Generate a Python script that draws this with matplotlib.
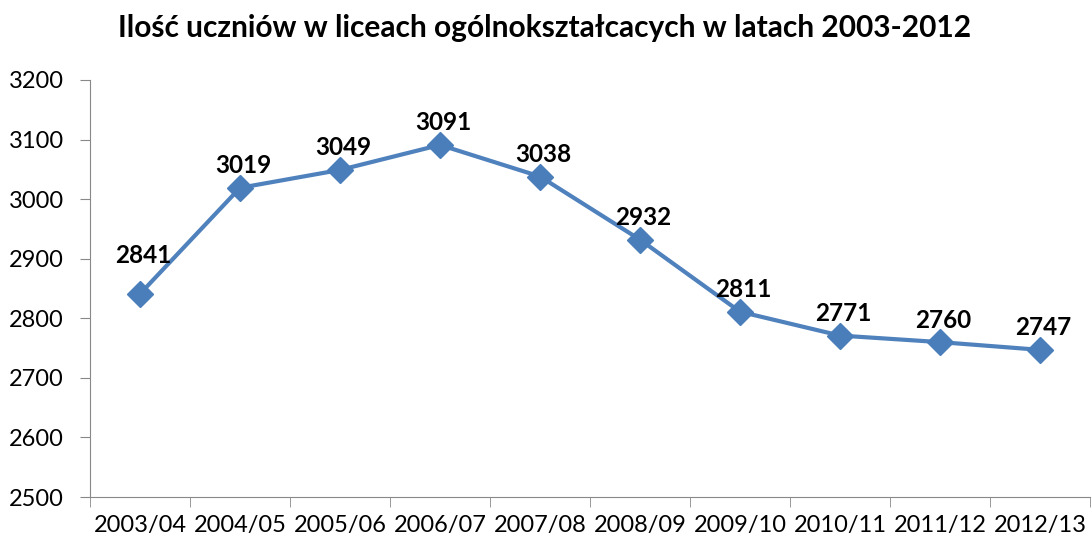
import matplotlib.pyplot as plt

years = ["2003/04", "2004/05", "2005/06", "2006/07", "2007/08",
         "2008/09", "2009/10", "2010/11", "2011/12", "2012/13"]
students = [2841, 3019, 3049, 3091, 3038, 2932, 2811, 2771, 2760, 2747]

plt.rcParams['font.family'] = ['Lato', 'DejaVu Sans']

fig = plt.figure(figsize=(10.92, 5.42), dpi=100)
ax = fig.add_axes([90 / 1092, 45 / 542, 1000 / 1092, 417 / 542])

x = list(range(len(years)))
ax.plot(x, students, color='#4F81BD', linewidth=3, marker='D',
        markersize=13, markerfacecolor='#4A7EBB', markeredgecolor='#4A7EBB')

for i, v in enumerate(students):
    dy = 38 if i == 0 else 22
    ax.annotate(str(v), (i, v), xytext=(3, dy), textcoords='offset pixels',
                ha='center', va='center', fontsize=17.5, fontweight='bold')

ax.set_xlim(-0.5, len(years) - 0.5)
ax.set_ylim(2500, 3200)
ax.set_yticks(range(2500, 3201, 100))
ax.set_xticks(x)
ax.set_xticklabels(years)
ax.set_xticks([i - 0.5 for i in range(len(years) + 1)], minor=True)
ax.tick_params(axis='x', which='major', length=0, pad=13, labelsize=17)
ax.tick_params(axis='x', which='minor', length=7, color='#888888')
ax.tick_params(axis='y', length=7, color='#888888', labelsize=17, pad=12)

for s in ['top', 'right']:
    ax.spines[s].set_visible(False)
for s in ['left', 'bottom']:
    ax.spines[s].set_color('#888888')

fig.suptitle("Ilość uczniów w liceach ogólnokształcacych w latach 2003-2012",
             x=545 / 1092, y=1 - 28 / 542, va='center',
             fontsize=21.5, fontweight='bold')

fig.savefig('out.png', dpi=100)
